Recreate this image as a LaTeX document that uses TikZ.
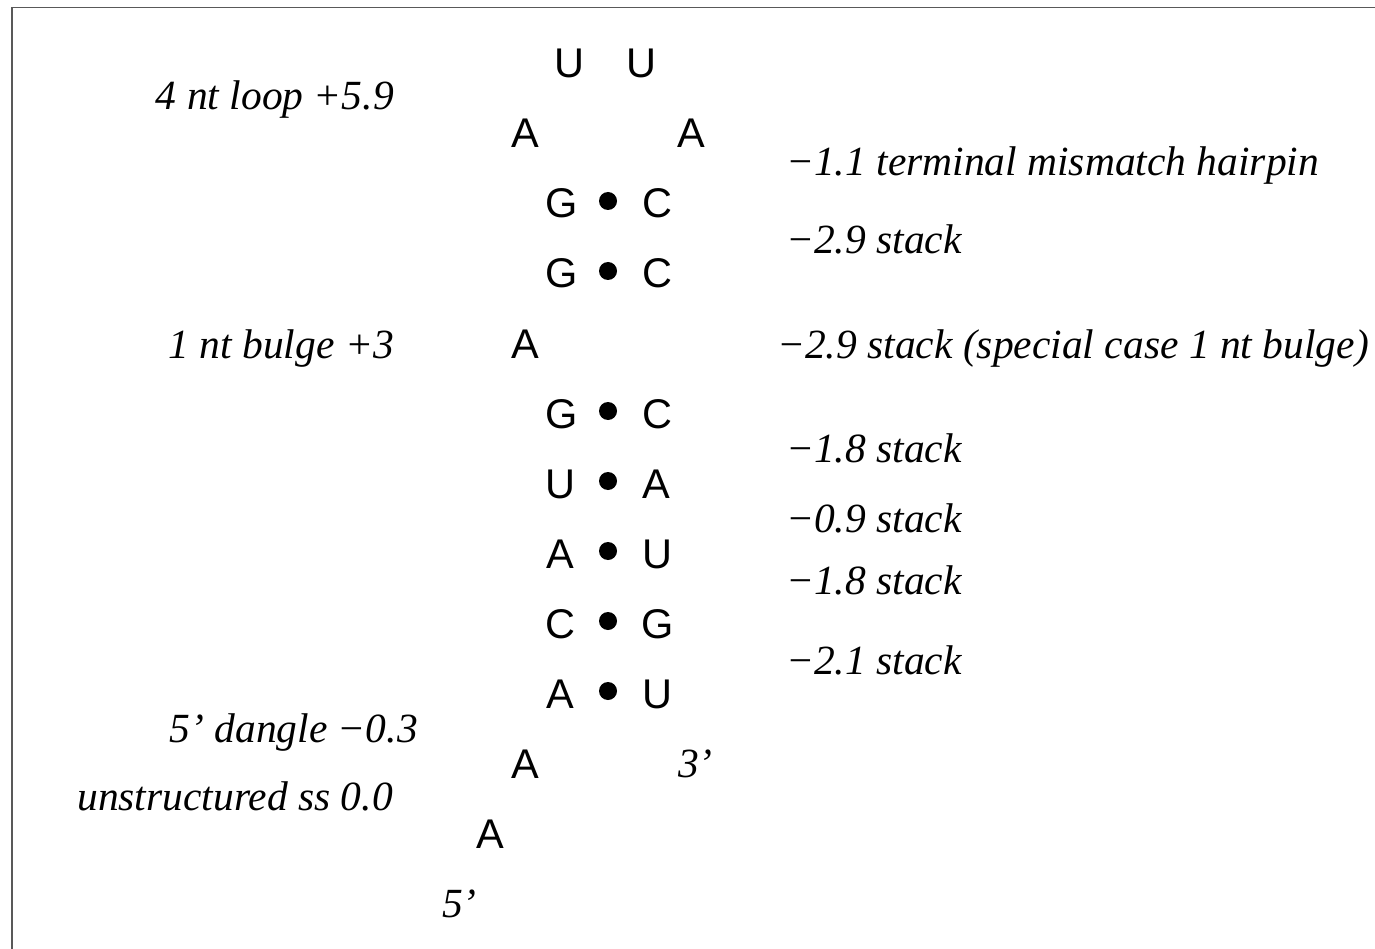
\documentclass[tikz,border=0pt]{standalone}
\usepackage{fontspec}
\setmainfont{Liberation Serif}
\newfontfamily\basefont{Liberation Sans}
\begin{document}
\begin{tikzpicture}[x=1pt,y=-1pt,
  nt/.style={font=\basefont\fontsize{41.5}{48}\selectfont, inner sep=0pt, anchor=base},
  lab/.style={font=\itshape\fontsize{41.5}{48}\selectfont, inner sep=0pt},
  labr/.style={lab, anchor=base east},
  labl/.style={lab, anchor=base west},
  pairdot/.style={circle, fill=black, draw=none, inner sep=0pt, minimum size=18pt},
  frameline/.style={draw=black!65, line width=1.8pt}]
\useasboundingbox (0,0) rectangle (1375,949);
\draw[frameline] (12,949) -- (12,7.5) -- (1375,7.5);
% hairpin loop
\node[nt] (u1) at (569,78) {U};
\node[nt] (u2) at (641,78) {U};
\node[nt] (a1) at (525,148) {A};
\node[nt] (a2) at (691,148) {A};
% stem
\node[nt] (g1) at (562,218) {G};
\node[pairdot] (d1) at (608,201) {};
\node[nt] (c1) at (657,218) {C};
\node[nt] (g2) at (562,288) {G};
\node[pairdot] (d2) at (608,271) {};
\node[nt] (c2) at (657,288) {C};
\node[nt] (ab) at (525,358) {A};
\node[nt] (g3) at (562,428) {G};
\node[pairdot] (d3) at (608,411) {};
\node[nt] (c3) at (657,428) {C};
\node[nt] (u4) at (560,498) {U};
\node[pairdot] (d4) at (608,481) {};
\node[nt] (a4) at (656,498) {A};
\node[nt] (a5) at (560,568) {A};
\node[pairdot] (d5) at (608,551) {};
\node[nt] (u5) at (657,568) {U};
\node[nt] (c6) at (560,638) {C};
\node[pairdot] (d6) at (608,621) {};
\node[nt] (g6) at (658,638) {G};
\node[nt] (a7) at (560,708) {A};
\node[pairdot] (d7) at (608,691) {};
\node[nt] (u7) at (657,708) {U};
\node[nt] (a8) at (525,778) {A};
\node[nt] (a9) at (490,848) {A};
% ends
\node[labl] (five) at (442,917) {5’};
\node[labl] (three) at (678,777) {3’};
% left labels
\node[labr] (l1) at (394,110) {4 nt loop +5.9};
\node[labr] (l2) at (394,358) {1 nt bulge +3};
\node[labr] (l3) at (418,742) {5’ dangle −0.3};
\node[labr] (l4) at (393,810) {unstructured ss 0.0};
% right labels
\node[labl] (r1) at (786,176) {−1.1 terminal mismatch hairpin};
\node[labl] (r2) at (786,254) {−2.9 stack};
\node[labl] (r3) at (777,358) {−2.9 stack (special case 1 nt bulge)};
\node[labl] (r4) at (786,462) {−1.8 stack};
\node[labl] (r5) at (786,532) {−0.9 stack};
\node[labl] (r6) at (786,594) {−1.8 stack};
\node[labl] (r7) at (786,674) {−2.1 stack};
\end{tikzpicture}
\end{document}
